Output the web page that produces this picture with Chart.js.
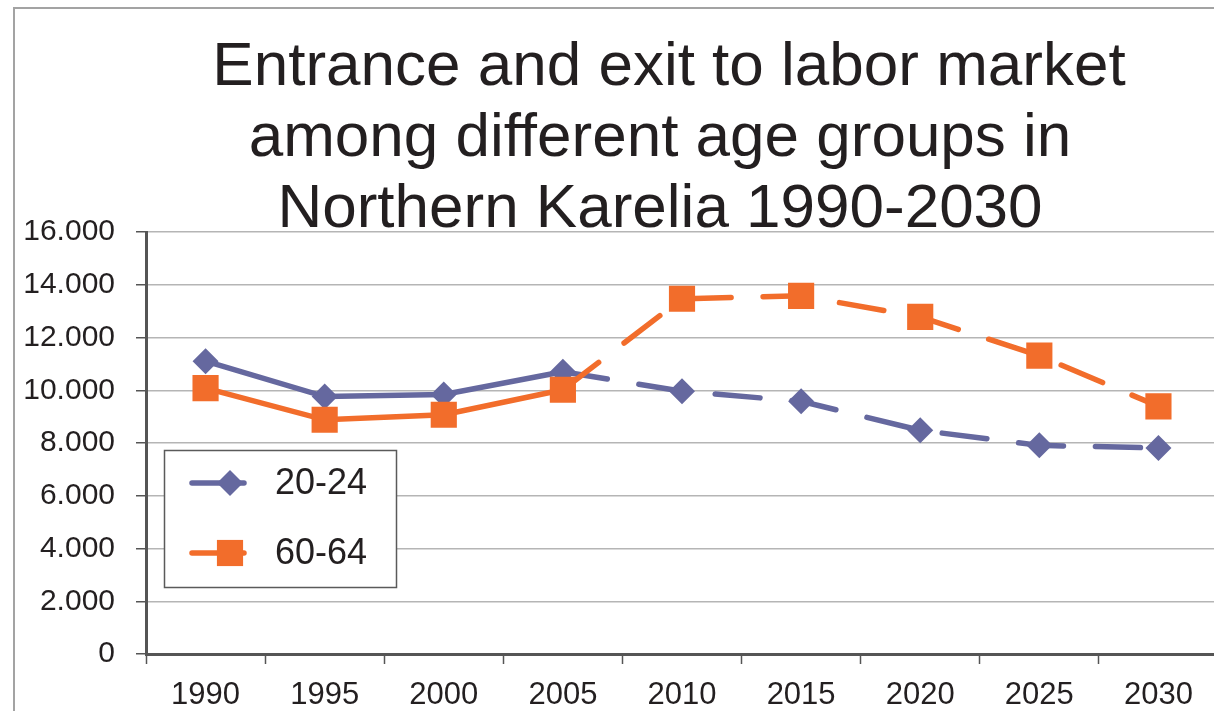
<!DOCTYPE html>
<html>
<head>
<meta charset="utf-8">
<script src="https://cdn.jsdelivr.net/npm/chart.js@4/dist/chart.umd.min.js"></script>
<style>
  html, body { margin: 0; padding: 0; background: #fff; overflow: hidden; }
  #wrap { width: 1220px; height: 711px; }
</style>
</head>
<body>
<div id="wrap"><canvas id="line" width="1220" height="711"></canvas></div>
<script>
// data
const categories = ['1990', '1995', '2000', '2005', '2010', '2015', '2020', '2025', '2030'];
const age20_24 = [11100, 9760, 9840, 10700, 9960, 9580, 8480, 7910, 7810];
const age60_64 = [10080, 8880, 9070, 10020, 13470, 13580, 12780, 11310, 9390];
const seriesNames = ['20-24', '60-64'];
const titleLines = ['Entrance and exit to labor market', 'among different age groups in', 'Northern Karelia 1990-2030'];
const projectionFrom = 3; // dashed from 2005 on

const blue = '#65689f';
const orange = '#f26d2b';
const textColor = '#231f20';
const font = "'Liberation Sans', Arial, sans-serif";

function thousands(v) {
    return String(v).replace(/\B(?=(\d{3})+(?!\d))/g, '.');
}

// grey frame round the chart
const framePlugin = {
    id: 'frame',
    beforeDraw(chart) {
        const c = chart.ctx;
        c.save();
        c.strokeStyle = '#a3a3a3';
        c.lineWidth = 2;
        c.strokeRect(14, 8, 1400, 900);
        c.restore();
    }
};

// title sits over the top of the plot, drawn by hand
const titlePlugin = {
    id: 'bigTitle',
    afterDraw(chart) {
        const c = chart.ctx;
        const xs = [669, 660, 660];
        const ys = [85, 156, 227];
        c.save();
        c.font = '62px ' + font;
        c.fillStyle = textColor;
        c.textAlign = 'center';
        c.textBaseline = 'alphabetic';
        titleLines.forEach((t, i) => c.fillText(t, xs[i], ys[i]));
        c.restore();
    }
};

function marker(c, style, r, x, y) {
    c.beginPath();
    if (style === 'rectRot') {
        c.moveTo(x - r, y); c.lineTo(x, y - r); c.lineTo(x + r, y); c.lineTo(x, y + r);
    } else {
        const s = r * Math.SQRT1_2;
        c.rect(x - s, y - s, 2 * s, 2 * s);
    }
    c.closePath();
    c.fill();
}

// boxed legend inside the plot
const legendPlugin = {
    id: 'boxLegend',
    afterDraw(chart) {
        const c = chart.ctx;
        c.save();
        c.fillStyle = '#fff';
        c.fillRect(164, 450, 232, 137);
        c.strokeStyle = '#5a5a5a';
        c.lineWidth = 1.5;
        c.strokeRect(164.5, 450.5, 232, 137);
        const rows = [483, 553];
        chart.data.datasets.slice().sort((a, b) => a.legendIdx - b.legendIdx).forEach((ds, i) => {
            const y = rows[i];
            c.strokeStyle = ds.borderColor;
            c.fillStyle = ds.borderColor;
            c.lineWidth = 5.5;
            c.lineCap = 'round';
            c.beginPath(); c.moveTo(192, y); c.lineTo(244, y); c.stroke();
            marker(c, ds.pointStyle, ds.pointRadius, 230, y);
            c.fillStyle = textColor;
            c.font = '36px ' + font;
            c.textAlign = 'left';
            c.textBaseline = 'middle';
            c.fillText(ds.label, 275, y + 1);
        });
        c.restore();
    }
};

const dashAfter = ctx => ctx.p0DataIndex >= projectionFrom ? [45, 32] : undefined;

new Chart(document.getElementById('line'), {
    type: 'line',
    data: {
        labels: categories,
        datasets: [
            {
                label: seriesNames[0],
                legendIdx: 0,
                data: age20_24,
                borderColor: blue,
                backgroundColor: blue,
                pointBackgroundColor: blue,
                pointBorderWidth: 0,
                borderWidth: 5.5,
                borderCapStyle: 'round',
                pointStyle: 'rectRot',
                pointRadius: 13,
                tension: 0,
                order: 1,
                segment: { borderDash: dashAfter }
            },
            {
                label: seriesNames[1],
                legendIdx: 1,
                data: age60_64,
                borderColor: orange,
                backgroundColor: orange,
                pointBackgroundColor: orange,
                pointBorderWidth: 0,
                borderWidth: 5.5,
                borderCapStyle: 'round',
                pointStyle: 'rect',
                pointRadius: 18.5,
                tension: 0,
                order: 0,
                segment: { borderDash: dashAfter }
            }
        ]
    },
    options: {
        responsive: false,
        animation: false,
        devicePixelRatio: 1,
        layout: { autoPadding: false, padding: { top: 232, left: 0, right: 2, bottom: 0 } },
        plugins: {
            legend: { display: false },
            title: { display: false },
            tooltip: { enabled: false }
        },
        scales: {
            x: {
                offset: true,
                grid: { offset: true, drawOnChartArea: false, tickLength: 10, tickColor: '#555', tickWidth: 1.5 },
                border: { color: '#555', width: 3 },
                ticks: { color: textColor, font: { family: font, size: 31 }, padding: 13, maxRotation: 0 },
                afterFit(s) { s.height = 57; }
            },
            y: {
                min: 0,
                max: 16000,
                grid: { color: '#b5b5b5', lineWidth: 1.5, tickLength: 10, tickColor: '#555' },
                border: { color: '#555', width: 3 },
                ticks: {
                    stepSize: 2000,
                    color: textColor,
                    font: { family: font, size: 30 },
                    padding: 21,
                    callback: v => thousands(v)
                },
                afterFit(s) { s.width = 146; }
            }
        }
    },
    plugins: [framePlugin, titlePlugin, legendPlugin]
});
</script>
</body>
</html>
